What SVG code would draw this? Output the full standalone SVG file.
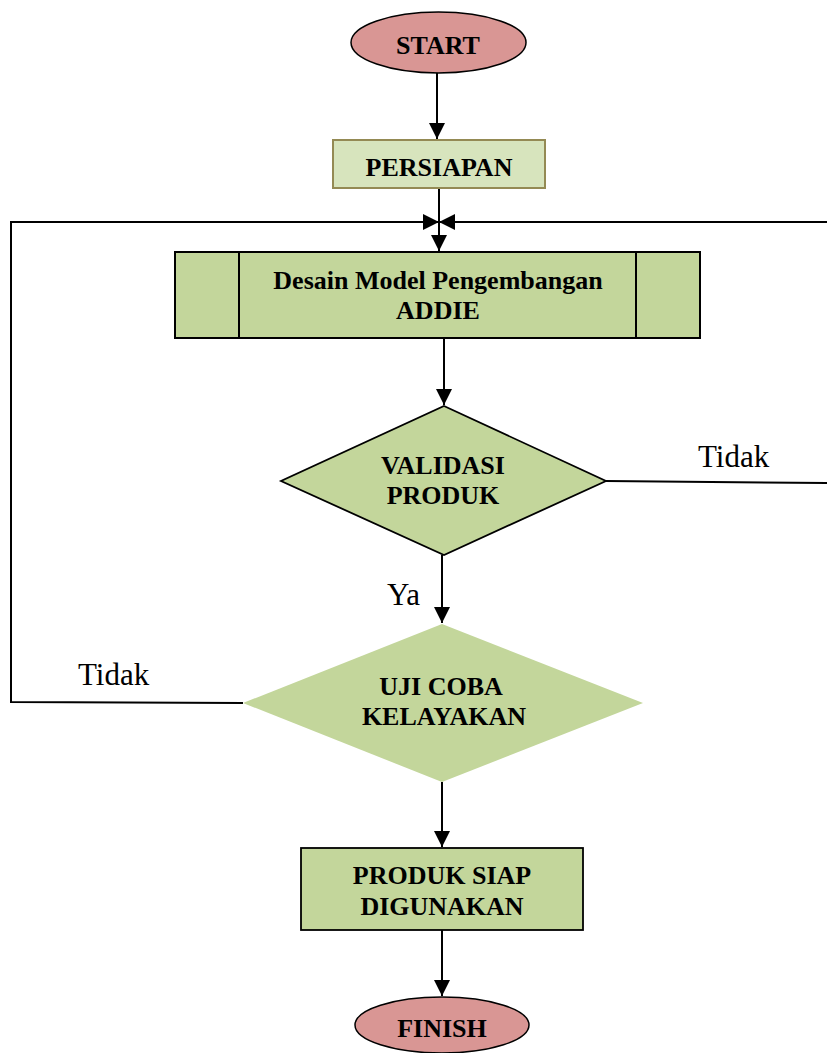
<svg xmlns="http://www.w3.org/2000/svg" width="827" height="1053" viewBox="0 0 827 1053">
<style>
.lbl{font-family:"Liberation Serif","Times New Roman",serif;font-weight:bold;font-size:26px;text-anchor:middle;fill:#000}
.cap{font-family:"Liberation Serif","Times New Roman",serif;font-size:31px;fill:#000}
.ln{fill:none;stroke:#000;stroke-width:2}
.term{fill:#d99694;stroke:#000;stroke-width:1.5}
.grn{fill:#c3d69b;stroke:#000;stroke-width:2}
</style>
<defs>
<marker id="ah" viewBox="0 0 16 16" refX="16" refY="8" markerWidth="16" markerHeight="16" markerUnits="userSpaceOnUse" orient="auto">
<path d="M0,0 L16,8 L0,16 Z" fill="#000"/>
</marker>
</defs>
<rect width="827" height="1053" fill="#fff"/>
<g id="connectors">
<line class="ln" x1="437" y1="73" x2="437" y2="139" marker-end="url(#ah)"/>
<line class="ln" x1="439" y1="188" x2="439" y2="251" marker-end="url(#ah)"/>
<polyline class="ln" points="243,703 11,702 11,222 439,222" marker-end="url(#ah)"/>
<polyline class="ln" points="606,481 832,483 832,222 439,222" marker-end="url(#ah)"/>
<line class="ln" x1="444" y1="338" x2="444" y2="405" marker-end="url(#ah)"/>
<line class="ln" x1="442" y1="555" x2="442" y2="623" marker-end="url(#ah)"/>
<line class="ln" x1="442" y1="782" x2="442" y2="847" marker-end="url(#ah)"/>
<line class="ln" x1="442" y1="930" x2="442" y2="996" marker-end="url(#ah)"/>
<text class="cap" x="698" y="467">Tidak</text>
<text class="cap" x="78" y="685">Tidak</text>
<text class="cap" x="387" y="605">Ya</text>
</g>
<g id="start">
<ellipse class="term" cx="438.5" cy="42.5" rx="87.5" ry="30.5"/>
<text class="lbl" x="438" y="54">START</text>
</g>
<g id="persiapan">
<rect x="333" y="140" width="212" height="48" fill="#d7e4bd" stroke="#948a54" stroke-width="2"/>
<text class="lbl" x="439" y="176">PERSIAPAN</text>
</g>
<g id="desain">
<rect class="grn" x="175" y="252" width="525" height="86"/>
<line class="ln" x1="239" y1="252" x2="239" y2="338"/>
<line class="ln" x1="636" y1="252" x2="636" y2="338"/>
<text class="lbl" x="438" y="289">Desain Model Pengembangan</text>
<text class="lbl" x="438" y="319">ADDIE</text>
</g>
<g id="validasi">
<polygon points="444,406 606,481 444,555 281,481" fill="#c3d69b" stroke="#000" stroke-width="1.8"/>
<text class="lbl" x="443" y="474">VALIDASI</text>
<text class="lbl" x="443" y="504">PRODUK</text>
</g>
<g id="uji">
<polygon points="442,624 643,703 442,782 243,703" fill="#c3d69b"/>
<text class="lbl" x="441" y="695">UJI COBA</text>
<text class="lbl" x="444" y="725">KELAYAKAN</text>
</g>
<g id="produk">
<rect x="301" y="848" width="282" height="82" fill="#c3d69b" stroke="#000" stroke-width="1.8"/>
<text class="lbl" x="442" y="884">PRODUK SIAP</text>
<text class="lbl" x="442" y="915">DIGUNAKAN</text>
</g>
<g id="finish">
<ellipse class="term" cx="442" cy="1025" rx="87" ry="28"/>
<text class="lbl" x="442" y="1037">FINISH</text>
</g>
</svg>
